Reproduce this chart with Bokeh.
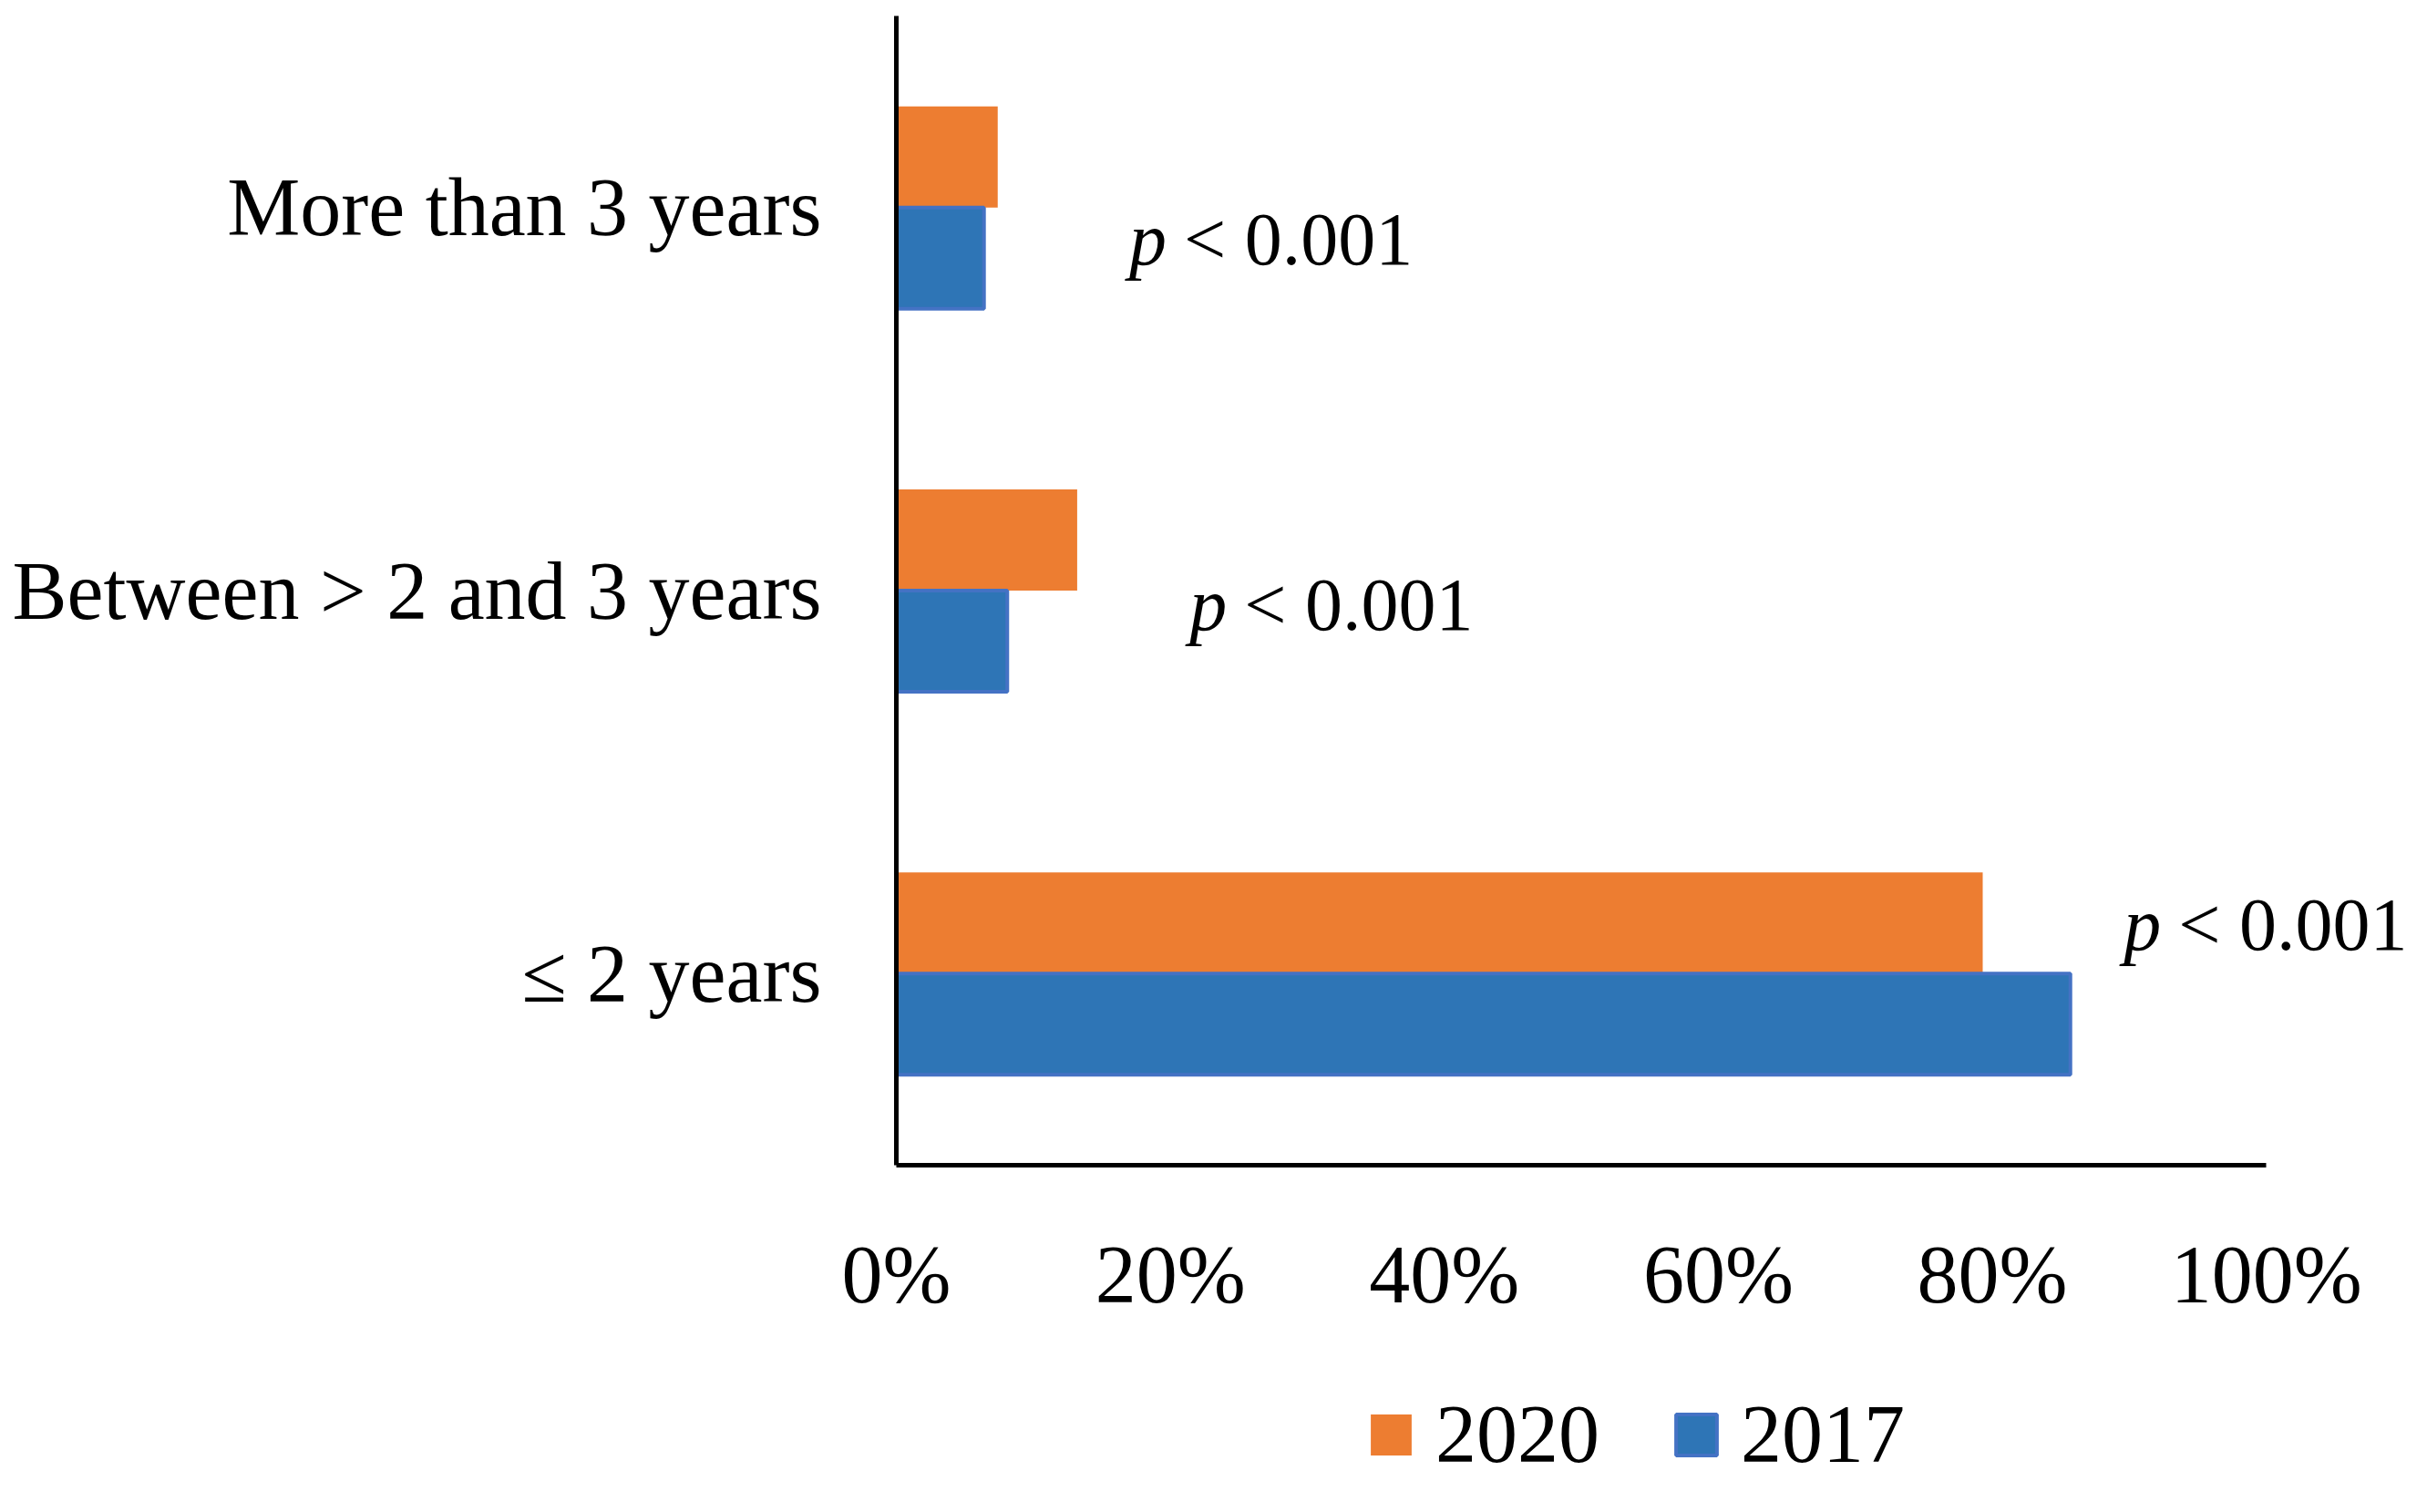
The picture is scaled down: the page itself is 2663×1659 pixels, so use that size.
from bokeh.plotting import figure
from bokeh.models import FactorRange, Range1d, FixedTicker, Legend, LegendItem, ColumnDataSource
from bokeh.layouts import column
from bokeh.transform import dodge
from bokeh.core.properties import value
from bokeh.embed import file_html
from bokeh.resources import INLINE

# ---- data ----
categories = ["≤ 2 years", "Between > 2 and 3 years", "More than 3 years"]
values_2020 = [79.3, 13.2, 7.4]
values_2017 = [85.7, 8.1, 6.4]
series_names = ["2020", "2017"]
tick_values = [0, 20, 40, 60, 80, 100]
tick_labels = ["0%", "20%", "40%", "60%", "80%", "100%"]
p_symbol = ["p", "p", "p"]
p_text = ["< 0.001", "< 0.001", "< 0.001"]

# ---- layout / style ----
FONT = "Liberation Serif"
FS = "90px"
ORANGE = "#ED7D31"
BLUE = "#2E75B6"
BLUE_EDGE = "#4472C4"

p = figure(frame_width=1658, frame_height=1261,
           y_range=FactorRange(factors=categories, range_padding=0),
           x_range=Range1d(0, 110.3),
           output_backend="svg", toolbar_location=None, title=None,
           min_border_left=983, min_border_right=6,
           min_border_top=17, min_border_bottom=200)

src = ColumnDataSource(dict(cat=categories, v2020=values_2020, v2017=values_2017))
bar_h = 0.264
bar_2020 = dict(fill_color=ORANGE, line_color=None)
bar_2017 = dict(fill_color=BLUE, line_color=BLUE_EDGE, line_width=4)
r1 = p.hbar(y=dodge('cat', bar_h / 2, range=p.y_range), left=0, right='v2020',
            height=bar_h, source=src, **bar_2020)
r2 = p.hbar(y=dodge('cat', -bar_h / 2, range=p.y_range), left=0, right='v2017',
            height=bar_h, source=src, **bar_2017)

# p-value annotations (position per category)
ann_x = [89.6, 21.4, 17.0]
ann_dy = [0.128, -0.036, -0.083]
for i, cat in enumerate(categories):
    s = ColumnDataSource(dict(cat=[cat], x=[ann_x[i]], sym=[p_symbol[i]], txt=[p_text[i]]))
    p.text(x='x', y=dodge('cat', ann_dy[i], range=p.y_range), text='sym', source=s,
           text_font=value(FONT), text_font_style="italic", text_font_size="82px",
           text_color="black", text_baseline="alphabetic", text_align="left")
    p.text(x='x', y=dodge('cat', ann_dy[i], range=p.y_range), text='txt', source=s,
           x_offset=60,
           text_font=value(FONT), text_font_size="82px",
           text_color="black", text_baseline="alphabetic", text_align="left")

# axes
p.xaxis.ticker = FixedTicker(ticks=tick_values)
p.xaxis.major_label_overrides = {t: l for t, l in zip(tick_values, tick_labels)}
p.xaxis.bounds = (0, 100)
for ax in (p.xaxis, p.yaxis):
    ax.axis_line_width = 5
    ax.axis_line_color = "black"
    ax.major_tick_out = 0
    ax.major_tick_in = 0
    ax.minor_tick_out = 0
    ax.minor_tick_in = 0
    ax.major_label_text_font = FONT
    ax.major_label_text_font_size = FS
    ax.major_label_text_color = "black"
p.xaxis.major_label_standoff = 70
p.yaxis.major_label_standoff = 82

p.grid.visible = False
p.outline_line_color = None
p.background_fill_color = "white"
p.border_fill_color = "white"

# ---- legend strip below the chart (its frame aligns with the chart's frame) ----
lf = figure(width=2647, height=173, x_range=Range1d(0, 1), y_range=Range1d(0, 1),
            output_backend="svg", toolbar_location=None, title=None,
            min_border=0)
lf.axis.visible = False
lf.grid.visible = False
lf.outline_line_color = None
# legend proxies, kept outside the strip's visible range
proxy = ColumnDataSource(dict(y=[-5.0], right=[0.0]))
l1 = lf.hbar(y='y', right='right', height=0.1, source=proxy, **bar_2020)
l2 = lf.hbar(y='y', right='right', height=0.1, source=proxy, **bar_2017)
legend = Legend(items=[LegendItem(label=series_names[0], renderers=[l1]),
                       LegendItem(label=series_names[1], renderers=[l2])],
                orientation="horizontal", location=(515, 26),
                glyph_width=56, glyph_height=56, label_standoff=21, spacing=78,
                label_text_font=FONT, label_text_font_size=FS, label_text_color="black",
                border_line_color=None, background_fill_alpha=0,
                padding=0, margin=0)
lf.add_layout(legend, 'center')

layout = column(p, lf, spacing=0)
open("out.html", "w").write(file_html(layout, INLINE))
